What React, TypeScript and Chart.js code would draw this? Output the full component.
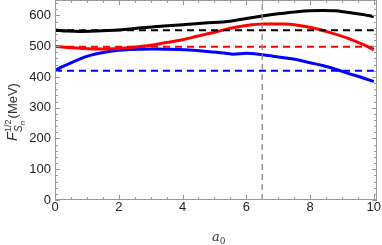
import React, { useEffect, useRef } from "react";
import { Chart, registerables } from "chart.js";

Chart.register(...registerables);

const xTicks = [0, 2, 4, 6, 8, 10];
const yTicks = [0, 100, 200, 300, 400, 500, 600];

const blackX = [0, 0.4, 0.8, 1.5, 2.35, 3.1, 3.9, 4.7, 5.5, 6.0, 6.5, 7.0, 7.6, 8.0, 8.4, 8.8, 9.15, 9.6, 10];
const blackY = [552, 549, 548, 550, 556, 563, 569, 575, 581, 590, 598, 605, 612, 615, 616, 615, 610, 604, 596];

const redX = [0, 0.4, 0.8, 1.2, 1.6, 2.0, 2.4, 3.0, 3.4, 4.0, 4.45, 5.0, 5.5, 6.0, 6.55, 7.2, 7.6, 8.1, 8.6, 9.15, 9.6, 10];
const redY = [499, 496, 493, 491, 491, 492, 496, 503, 510, 521, 532, 545, 558, 567, 572, 572, 568, 559, 545, 527, 508, 489];

const blueX = [0, 0.25, 0.5, 1.0, 1.6, 2.35, 3.1, 3.9, 4.75, 5.3, 5.6, 6.0, 6.5, 7.0, 7.6, 8.0, 8.4, 8.8, 9.15, 9.6, 10];
const blueY = [421, 434, 446, 467, 481, 489, 491, 489, 483, 478, 474, 477, 472, 465, 456, 446, 437, 425, 413, 399, 385];

const blackRef = 552;
const redRef = 498;
const blueRef = 420;
const markerX = 6.5;

const xMin = 0;
const xMax = 10.1;
const yMin = 0;
const yMax = 650;

const pts = (xs: number[], ys: number[]) => xs.map((x, i) => ({ x, y: ys[i] }));

const FONT = "'Liberation Sans', Arial, sans-serif";

const framePlugin = {
  id: "frame",
  afterDraw(chart: any) {
    const { ctx, chartArea: a, scales } = chart;
    const xs = scales.x;
    const ys = scales.y;
    ctx.save();
    ctx.strokeStyle = "#9a9a9a";
    ctx.lineWidth = 1;
    ctx.strokeRect(a.left + 0.5, a.top + 0.5, a.right - a.left - 1, a.bottom - a.top - 1);
    ctx.beginPath();
    for (let v = 0; v <= 10.001; v += 0.5) {
      const p = Math.round(xs.getPixelForValue(v)) + 0.5;
      const major = Math.abs(v / 2 - Math.round(v / 2)) < 1e-6;
      const len = major ? 5 : 3;
      ctx.moveTo(p, a.bottom);
      ctx.lineTo(p, a.bottom - len);
      ctx.moveTo(p, a.top);
      ctx.lineTo(p, a.top + len);
    }
    for (let v = 0; v <= 640.001; v += 20) {
      const p = Math.round(ys.getPixelForValue(v)) + 0.5;
      const major = v % 100 === 0;
      const len = major ? 5 : 3;
      ctx.moveTo(a.left, p);
      ctx.lineTo(a.left + len, p);
      ctx.moveTo(a.right, p);
      ctx.lineTo(a.right - len, p);
    }
    ctx.stroke();

    // tick labels
    ctx.fillStyle = "#222";
    ctx.font = `13px ${FONT}`;
    ctx.textAlign = "center";
    ctx.textBaseline = "top";
    xTicks.forEach((v) => ctx.fillText(String(v), xs.getPixelForValue(v), a.bottom + 1));
    ctx.textAlign = "right";
    ctx.textBaseline = "middle";
    yTicks.forEach((v) => ctx.fillText(String(v), a.left - 4, ys.getPixelForValue(v)));

    // x title
    ctx.fillStyle = "#333";
    ctx.textBaseline = "alphabetic";
    ctx.textAlign = "left";
    ctx.font = "italic 13px 'DejaVu Serif', serif";
    const cx = 212;
    const by = 241;
    ctx.fillText("a", cx, by);
    const aw = ctx.measureText("a").width;
    ctx.font = "9px 'DejaVu Serif', serif";
    ctx.fillText("0", cx + aw, by + 3);

    // y title
    ctx.translate(17, 100);
    ctx.rotate(-Math.PI / 2);
    let x = -41;
    ctx.font = `italic 14px ${FONT}`;
    ctx.fillText("F", x, 0);
    x += ctx.measureText("F").width + 0.5;
    ctx.font = `9px ${FONT}`;
    ctx.fillText("1/2", x, -6);
    const w12 = ctx.measureText("1/2").width;
    ctx.font = `italic 10px ${FONT}`;
    ctx.fillText("S", x, 5);
    const sw = ctx.measureText("S").width;
    ctx.font = `italic 8px ${FONT}`;
    ctx.fillText("n", x + sw, 8);
    const nw = ctx.measureText("n").width;
    x += Math.max(w12, sw + nw) + 1;
    ctx.font = `13px ${FONT}`;
    ctx.fillText("(MeV)", x, 0);
    ctx.restore();
  },
};

export default function App() {
  const ref = useRef<HTMLCanvasElement>(null);
  useEffect(() => {
    document.body.style.margin = "0";
    const c = ref.current!;
    const chart = new Chart(c, {
      type: "scatter",
      data: {
        datasets: [
          { data: [{ x: markerX, y: yMin }, { x: markerX, y: yMax }], borderColor: "#8c8c8c", borderWidth: 1.3, borderDash: [6, 4], showLine: true, pointRadius: 0 },
          { data: [{ x: xMin, y: blackRef }, { x: 10, y: blackRef }], borderColor: "#000", borderWidth: 2, borderDash: [7, 5], showLine: true, pointRadius: 0 },
          { data: [{ x: xMin, y: redRef }, { x: 10, y: redRef }], borderColor: "#ff0000", borderWidth: 2, borderDash: [7, 5], showLine: true, pointRadius: 0 },
          { data: [{ x: xMin, y: blueRef }, { x: 10, y: blueRef }], borderColor: "#0000ff", borderWidth: 2, borderDash: [7, 5], showLine: true, pointRadius: 0 },
          { data: pts(blackX, blackY), borderColor: "#000", borderWidth: 3, showLine: true, pointRadius: 0, cubicInterpolationMode: "monotone" },
          { data: pts(redX, redY), borderColor: "#ff0000", borderWidth: 3, showLine: true, pointRadius: 0, cubicInterpolationMode: "monotone" },
          { data: pts(blueX, blueY), borderColor: "#0000ff", borderWidth: 3, showLine: true, pointRadius: 0, cubicInterpolationMode: "monotone" },
        ] as any,
      },
      options: {
        animation: false,
        responsive: false,
        devicePixelRatio: 1,
        layout: { padding: { left: 0, right: 5, top: 0, bottom: 0 } },
        plugins: { legend: { display: false }, tooltip: { enabled: false } },
        scales: {
          x: {
            type: "linear",
            min: xMin,
            max: xMax,
            grid: { display: false, drawTicks: false },
            border: { display: false },
            ticks: { display: false },
            afterBuildTicks: (s: any) => { s.ticks = xTicks.map((v) => ({ value: v })); },
            afterFit: (s: any) => { s.height = 45; },
          },
          y: {
            type: "linear",
            min: yMin,
            max: yMax,
            grid: { display: false, drawTicks: false },
            border: { display: false },
            ticks: { display: false },
            afterBuildTicks: (s: any) => { s.ticks = yTicks.map((v) => ({ value: v })); },
            afterFit: (s: any) => { s.width = 55; },
          },
        },
      } as any,
      plugins: [framePlugin],
    });
    return () => chart.destroy();
  }, []);
  return (
    <div style={{ position: "absolute", left: 0, top: 0, width: 382, height: 245, background: "#fff" }}>
      <canvas ref={ref} width={382} height={245} style={{ width: 382, height: 245 }} />
    </div>
  );
}
